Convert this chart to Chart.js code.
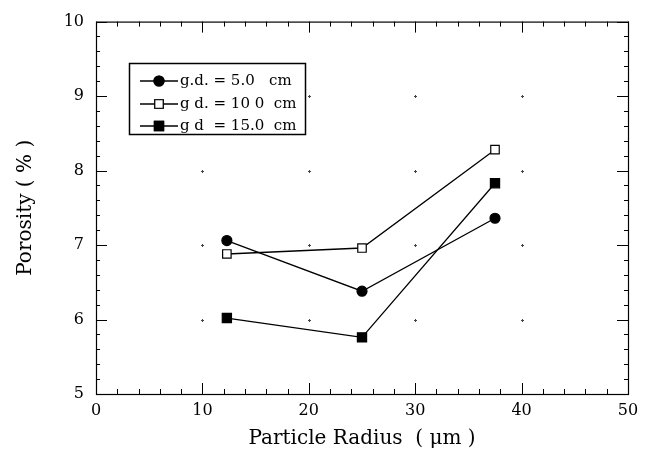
<!DOCTYPE html>
<html><head><meta charset="utf-8">
<script src="https://cdn.jsdelivr.net/npm/chart.js@4"></script>
<style>html,body{margin:0;padding:0;background:#fff}#wrap{width:649px;height:455px}</style>
</head><body><div id="wrap"><canvas id="c" width="649" height="455"></canvas></div>
<script>
const radius = [12.3, 25.0, 37.5];
const gd5 = [7.06, 6.38, 7.36];
const gd10 = [6.88, 6.96, 8.28];
const gd15 = [6.02, 5.76, 7.83];
const seriesLabels = ["g.d. = 5.0   cm", "g d. = 10 0  cm", "g d  = 15.0  cm"];
const xTicks = [0, 10, 20, 30, 40, 50];
const yTicks = [5, 6, 7, 8, 9, 10];
const FONT = "'DejaVu Serif', 'Liberation Serif', serif";

function pts(ys){ return radius.map((x,i)=>({x:x,y:ys[i]})); }
const styles = [
  {pointStyle:'circle', pointRadius:5, bg:'#000'},
  {pointStyle:'rect', pointRadius:6, bg:'#fff'},
  {pointStyle:'rect', pointRadius:6.5, bg:'#000'}
];
const datasets = [gd5, gd10, gd15].map((d,i)=>({
  label: seriesLabels[i], data: pts(d), showLine:true,
  borderColor:'#000', borderWidth:1.3,
  pointStyle: styles[i].pointStyle, pointRadius: styles[i].pointRadius,
  pointBackgroundColor: styles[i].bg, pointBorderColor:'#000', pointBorderWidth:1.2
}));

const frame = {
  id:'frame',
  afterDatasetsDraw(chart){
    const {ctx, chartArea:a, scales:{x,y}} = chart;
    ctx.save();
    ctx.strokeStyle='#000'; ctx.lineWidth=1.2;
    ctx.strokeRect(a.left+0.5, a.top+0.5, a.right-a.left, a.bottom-a.top);
    ctx.lineWidth=1;
    ctx.beginPath();
    for(let v=0; v<=50; v+=2){
      const px = Math.round(x.getPixelForValue(v))+0.5;
      const L = (v%10===0)?11:5;
      ctx.moveTo(px,a.bottom); ctx.lineTo(px,a.bottom-L);
      ctx.moveTo(px,a.top); ctx.lineTo(px,a.top+L);
    }
    for(let k=0; k<=25; k++){
      const v = 5 + k*0.2;
      const py = Math.round(y.getPixelForValue(v))+0.5;
      const L = (k%5===0)?11:4;
      ctx.moveTo(a.left,py); ctx.lineTo(a.left+L,py);
      ctx.moveTo(a.right,py); ctx.lineTo(a.right-L,py);
    }
    ctx.stroke();
    ctx.strokeStyle='#444'; ctx.lineWidth=1;
    ctx.beginPath();
    for(const xv of [10,20,30,40]) for(const yv of [6,7,8,9]){
      const px=Math.round(x.getPixelForValue(xv))+0.5, py=Math.round(y.getPixelForValue(yv))+0.5;
      ctx.moveTo(px-1.5,py); ctx.lineTo(px+1.5,py);
      ctx.moveTo(px,py-1.5); ctx.lineTo(px,py+1.5);
    }
    ctx.stroke();
    const bx=129, by=63, bw=176, bh=71;
    ctx.fillStyle='#fff'; ctx.fillRect(bx,by,bw,bh);
    ctx.strokeStyle='#000'; ctx.lineWidth=1.5;
    ctx.strokeRect(bx+0.5,by+0.5,bw,bh);
    const rows=[81,104,126];
    ctx.font = "15px "+FONT; ctx.textBaseline='middle'; ctx.textAlign='left';
    chart.data.datasets.forEach((ds,i)=>{
      const ry=rows[i];
      ctx.strokeStyle='#000'; ctx.lineWidth=1.3;
      ctx.beginPath(); ctx.moveTo(140,ry); ctx.lineTo(178,ry); ctx.stroke();
      ctx.fillStyle=ds.pointBackgroundColor; ctx.lineWidth=1.2;
      Chart.helpers.drawPoint(ctx,{pointStyle:ds.pointStyle, radius:ds.pointRadius, borderWidth:1.2}, 159, ry);
      ctx.fill(); ctx.stroke();
      ctx.fillStyle='#000';
      ctx.fillText(ds.label, 180, ry);
    });
    ctx.restore();
  }
};

new Chart(document.getElementById('c'), {
  type:'scatter',
  data:{datasets},
  options:{
    responsive:false, animation:false,
    layout:{padding:{left:0,right:21,top:19,bottom:0}},
    plugins:{legend:{display:false}, tooltip:{enabled:false}},
    scales:{
      x:{type:'linear', min:0, max:50,
        afterBuildTicks(s){ s.ticks = xTicks.map(v=>({value:v})); },
        afterFit(s){ s.height = 61; },
        grid:{display:false, drawTicks:false}, border:{display:false},
        ticks:{color:'#000', padding:7, maxRotation:0, font:{family:FONT,size:16}},
        title:{display:true, text:'Particle Radius  ( μm )', color:'#000', font:{family:FONT,size:20}, padding:{top:2,bottom:4}}
      },
      y:{type:'linear', min:5, max:10,
        afterBuildTicks(s){ s.ticks = yTicks.map(v=>({value:v})); },
        afterFit(s){ s.width = 96; },
        grid:{display:false, drawTicks:false}, border:{display:false},
        ticks:{color:'#000', padding:12, font:{family:FONT,size:16}},
        title:{display:true, text:'Porosity ( % )', color:'#000', font:{family:FONT,size:20}, padding:{top:14,bottom:0}}
      }
    }
  },
  plugins:[frame]
});
</script></body></html>
